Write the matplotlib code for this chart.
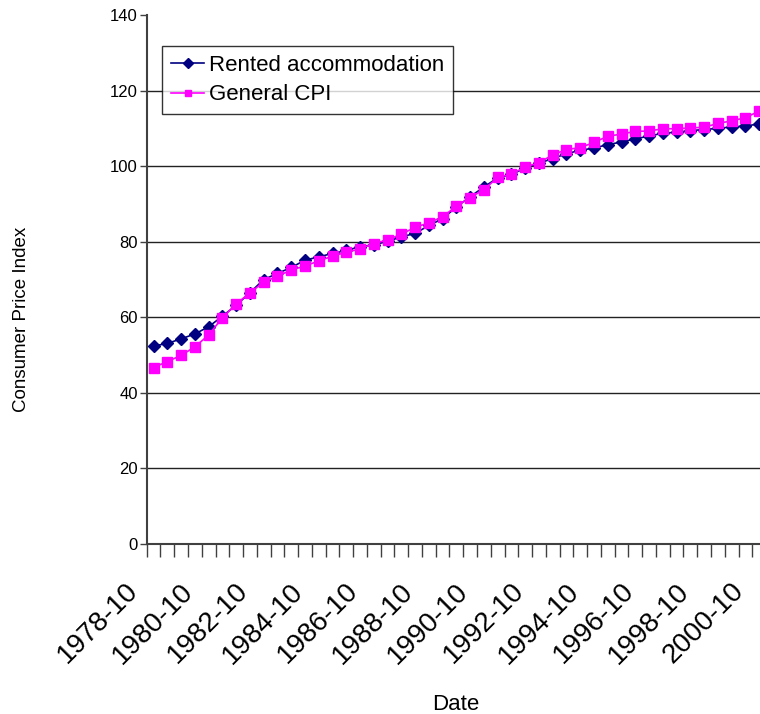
import matplotlib
matplotlib.use("Agg")
import matplotlib.pyplot as plt
import matplotlib.transforms as mtransforms
from matplotlib.ticker import FixedLocator

plt.rcParams['font.family'] = ['Liberation Sans', 'DejaVu Sans']

# Half-yearly observations, 1978-10 .. 2000-10
dates = ['%d-%s' % (y, m) for y in range(1978, 2001) for m in ('04', '10')][1:]

rented = [52.4, 53.1, 54.3, 55.6, 57.5, 60.3, 63.2, 66.5, 70.0, 71.6,
          73.2, 75.1, 76.0, 76.9, 77.7, 78.7, 79.2, 80.1, 81.3, 82.2,
          84.3, 86.1, 89.2, 91.9, 94.5, 96.9, 97.8, 99.5, 100.8, 102.0,
          103.3, 104.2, 104.8, 105.7, 106.4, 107.2, 108.0, 108.7, 109.0, 109.4,
          109.7, 110.0, 110.4, 110.6, 111.2]
general_cpi = [46.7, 48.3, 49.9, 52.2, 55.3, 59.9, 63.5, 66.5, 69.3, 70.9,
               72.5, 73.6, 74.9, 76.2, 77.2, 78.1, 79.5, 80.5, 82.0, 83.8,
               85.0, 86.6, 89.4, 91.7, 93.8, 97.0, 97.9, 99.8, 100.9, 103.0,
               104.4, 104.9, 106.3, 107.9, 108.5, 109.2, 109.3, 109.9, 109.9, 110.1,
               110.3, 111.3, 112.0, 112.8, 114.6]
yticks = [0, 20, 40, 60, 80, 100, 120, 140]

fig = plt.figure(figsize=(7.6, 7.14), dpi=100)
ax = fig.add_axes([0.193, 0.238, 0.815, 0.741])

x = list(range(len(dates)))
for t in yticks[1:-1]:
    ax.axhline(t, color='#222222', linewidth=1.0, zorder=1)

ax.plot(x, rented, color='#000080', marker='D', markersize=6.5, linewidth=1.2,
        label='Rented accommodation', zorder=3)
ax.plot(x, general_cpi, color='#FF00FF', marker='s', markersize=7, linewidth=1.2,
        label='General CPI', zorder=4)

ax.set_xlim(-0.5, len(dates) - 0.5)
ax.set_ylim(0, 140)
ax.set_yticks(yticks)
ax.tick_params(axis='y', labelsize=12, length=5, width=1, color='#404040', pad=1.5)

# labels at every 4th category, tick marks at category boundaries
ax.set_xticks(x[::4])
ax.set_xticklabels(dates[::4], rotation=45, ha='right', va='top', fontsize=20)
ax.tick_params(axis='x', which='major', length=0, pad=0)
shift = mtransforms.ScaledTranslation(-0.10, -0.34, fig.dpi_scale_trans)
for lab in ax.get_xticklabels():
    lab.set_transform(lab.get_transform() + shift)
ax.xaxis.set_minor_locator(FixedLocator([i - 0.5 for i in range(len(dates) + 1)]))
ax.tick_params(axis='x', which='minor', length=9, width=1, color='#404040')

for side in ('top', 'right'):
    ax.spines[side].set_visible(False)
for side in ('left', 'bottom'):
    ax.spines[side].set_color('#404040')
    ax.spines[side].set_linewidth(1.5)

fig.text(0.028, 0.552, 'Consumer Price Index', rotation=90, fontsize=13.5,
         ha='center', va='center')
fig.text(0.6, 0.013, 'Date', fontsize=16, ha='center', va='center')

leg = ax.legend(loc='upper left', bbox_to_anchor=(162 / 760, 1 - 46 / 714),
                bbox_transform=fig.transFigure, fontsize=16, frameon=True,
                fancybox=False, edgecolor='black', numpoints=1,
                borderpad=0.4, labelspacing=0.38, handlelength=1.5,
                handletextpad=0.2, borderaxespad=0)
leg.get_frame().set_linewidth(1.0)
for h in leg.legend_handles:
    h.set_markersize(5)

fig.savefig('out.png', dpi=100)
